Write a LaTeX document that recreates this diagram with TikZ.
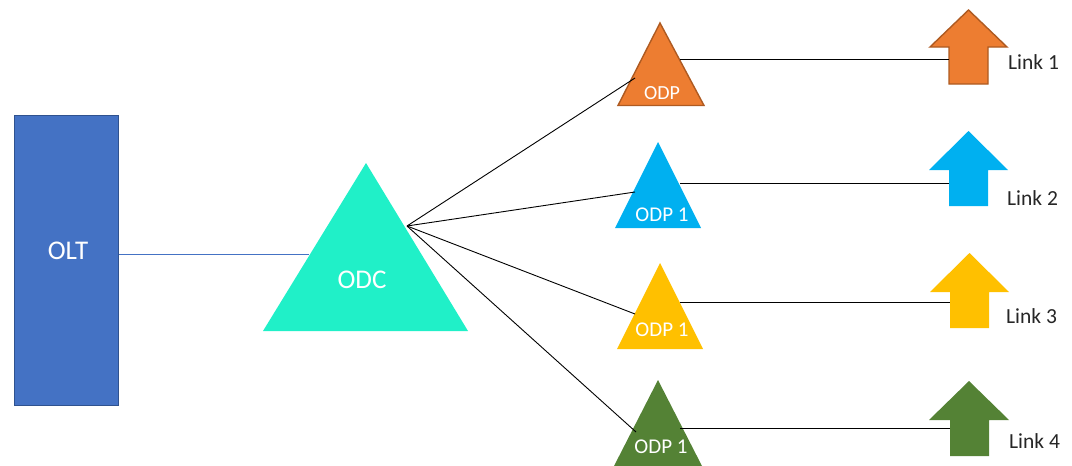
\documentclass[tikz,border=0pt]{standalone}
\usepackage{fontspec}
\setmainfont{Carlito}
\definecolor{oltfill}{HTML}{4472C4}
\definecolor{oltedge}{HTML}{2F528F}
\definecolor{odcfill}{HTML}{20F0C8}
\definecolor{cOrange}{HTML}{ED7D31}
\definecolor{cOrangeEdge}{HTML}{AE5A21}
\definecolor{cBlue}{HTML}{00B0F0}
\definecolor{cYellow}{HTML}{FFC000}
\definecolor{cGreen}{HTML}{548235}
\begin{document}
\begin{tikzpicture}[x=1pt,y=-1pt,
  wlabel/.style={text=white, inner sep=0pt},
  linklabel/.style={text=black!85, inner sep=0pt, anchor=west, font=\fontsize{21.5}{25}\selectfont},
  wire/.style={line width=0.9pt, black},
  uparrow/.style={line join=miter}]
\useasboundingbox (0,0) rectangle (1072,466);

% OLT rack
\node[draw=oltedge, fill=oltfill, line width=1.8pt, minimum width=104pt,
      minimum height=290pt, inner sep=0pt] (olt) at (66.5,260.5) {};
\node[wlabel, font=\fontsize{27}{32}\selectfont] (oltlabel) at (68,250.5) {OLT};

% ODC splitter
\fill[odcfill] (263,331) -- (366,163) -- (468,331) -- cycle;
\node[wlabel, font=\fontsize{27}{32}\selectfont] (odc) at (362,280) {ODC};
\coordinate (odcW) at (309,254);
\coordinate (fan) at (407,226);

% ODP triangles
\filldraw[fill=cOrange, draw=cOrangeEdge, line width=1.4pt, line join=miter]
  (618,105.5) -- (660,23) -- (704,105.5) -- cycle;
\fill[cBlue] (615,228) -- (658,142) -- (701,228) -- cycle;
\fill[cYellow] (617,349) -- (660,263) -- (703,349) -- cycle;
\fill[cGreen] (614,466) -- (658,380) -- (702,466) -- cycle;

\node[wlabel, font=\fontsize{20}{24}\selectfont] (odp1) at (662,93) {ODP};
\node[wlabel, font=\fontsize{21}{25}\selectfont] (odp2) at (662,215) {ODP 1};
\node[wlabel, font=\fontsize{21}{25}\selectfont] (odp3) at (662,330) {ODP 1};
\node[wlabel, font=\fontsize{21}{25}\selectfont] (odp4) at (661,447) {ODP 1};

% connection points on the ODP triangles
\coordinate (in1) at (635,78);
\coordinate (in2) at (635,192);
\coordinate (in3) at (635,314);
\coordinate (in4) at (636,432);
\coordinate (out1) at (680,59);
\coordinate (out2) at (680,183);
\coordinate (out3) at (680,302);
\coordinate (out4) at (680,428);

% link arrows
\filldraw[fill=cOrange, draw=cOrangeEdge, line width=1.4pt, uparrow, shift={(968.5,10)}]
  (0,0) -- (38.5,37) -- (19.5,37) -- (19.5,74) -- (-19.5,74) -- (-19.5,37) -- (-38.5,37) -- cycle;
\fill[cBlue, uparrow, shift={(968.5,131)}]
  (0,0) -- (39.5,39) -- (19.5,39) -- (19.5,75) -- (-19.5,75) -- (-19.5,39) -- (-39.5,39) -- cycle;
\fill[cYellow, uparrow, shift={(969.5,253)}]
  (0,0) -- (39.5,39) -- (19.5,39) -- (19.5,75) -- (-19.5,75) -- (-19.5,39) -- (-39.5,39) -- cycle;
\fill[cGreen, uparrow, shift={(969,381)}]
  (0,0) -- (40,39) -- (20,39) -- (20,75) -- (-19,75) -- (-19,39) -- (-40,39) -- cycle;

\coordinate (ar1) at (949,59);
\coordinate (ar2) at (949,183);
\coordinate (ar3) at (950,302);
\coordinate (ar4) at (950,428);

\node[linklabel] (link1) at (1008,62) {Link 1};
\node[linklabel] (link2) at (1007,198) {Link 2};
\node[linklabel] (link3) at (1006,316) {Link 3};
\node[linklabel] (link4) at (1009,441) {Link 4};

% feeder from OLT to ODC
\draw[oltfill, line width=0.9pt] (olt.east |- odcW) -- (odcW);

% distribution fibres
\foreach \i in {1,2,3,4} {
  \draw[wire] (fan) -- (in\i);
  \draw[wire] (out\i) -- (ar\i);
}
\end{tikzpicture}
\end{document}
